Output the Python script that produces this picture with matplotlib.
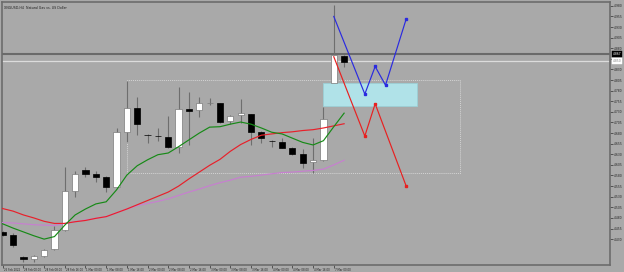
import matplotlib
matplotlib.use("Agg")
import matplotlib.pyplot as plt
import matplotlib.transforms as mtransforms
from matplotlib.patches import Rectangle

# Dados (velas H4)
titulo = "XNGUSD,H4  Natural Gas vs. US Dollar"

abertura = [4.446, 4.440, 4.389, 4.383, 4.390, 4.407, 4.452, 4.544, 4.593, 4.584,
            4.577, 4.553, 4.683, 4.739, 4.676, 4.674, 4.671, 4.647, 4.737, 4.735,
            4.751, 4.751, 4.709, 4.723, 4.725, 4.683, 4.662, 4.659, 4.645, 4.631,
            4.612, 4.617, 4.798, 4.862]
maxima = [4.448, 4.444, 4.391, 4.392, 4.407, 4.461, 4.600, 4.591, 4.600, 4.591,
          4.579, 4.692, 4.803, 4.765, 4.677, 4.692, 4.721, 4.789, 4.777, 4.765,
          4.763, 4.752, 4.722, 4.761, 4.726, 4.685, 4.664, 4.669, 4.647, 4.643,
          4.669, 4.742, 4.982, 4.863]
minima = [4.438, 4.412, 4.376, 4.376, 4.388, 4.405, 4.448, 4.530, 4.577, 4.565,
          4.541, 4.551, 4.659, 4.676, 4.657, 4.662, 4.645, 4.633, 4.652, 4.718,
          4.747, 4.704, 4.702, 4.704, 4.652, 4.657, 4.647, 4.644, 4.629, 4.598,
          4.586, 4.614, 4.796, 4.836]
fechamento = [4.440, 4.416, 4.383, 4.391, 4.405, 4.452, 4.544, 4.584, 4.584, 4.577,
              4.553, 4.683, 4.739, 4.702, 4.675, 4.672, 4.647, 4.737, 4.732, 4.751,
              4.752, 4.706, 4.721, 4.728, 4.683, 4.669, 4.661, 4.645, 4.631, 4.610,
              4.617, 4.713, 4.864, 4.848]

# Medias moveis (comecam uma vela antes da tela)
media_verde = [4.475, 4.466, 4.456, 4.447, 4.438, 4.430, 4.436, 4.463, 4.487, 4.501,
               4.513, 4.518, 4.546, 4.581, 4.603, 4.617, 4.629, 4.633, 4.648, 4.664,
               4.680, 4.694, 4.695, 4.701, 4.706, 4.701, 4.692, 4.682, 4.678, 4.668,
               4.658, 4.652, 4.662, 4.695, 4.727]
media_vermelha = [4.508, 4.502, 4.496, 4.487, 4.480, 4.472, 4.467, 4.467, 4.471, 4.474,
                  4.479, 4.483, 4.492, 4.501, 4.511, 4.521, 4.531, 4.541, 4.555, 4.572,
                  4.588, 4.604, 4.618, 4.637, 4.653, 4.665, 4.675, 4.678, 4.681, 4.683,
                  4.686, 4.688, 4.692, 4.697, 4.702]
media_roxa = [4.471, 4.469, 4.468, 4.466, 4.464, 4.463, 4.462, 4.467, 4.471, 4.475,
              4.479, 4.483, 4.492, 4.501, 4.509, 4.514, 4.519, 4.525, 4.533, 4.541,
              4.548, 4.556, 4.563, 4.569, 4.576, 4.578, 4.581, 4.584, 4.587, 4.588,
              4.590, 4.592, 4.595, 4.605, 4.616]

# Projecoes desenhadas
proj_azul_x = [32, 35, 36, 37, 39]
proj_azul_y = [4.955, 4.772, 4.837, 4.793, 4.949]
proj_verm_x = [32, 35, 36, 39]
proj_verm_y = [4.860, 4.673, 4.749, 4.555]

# Zonas (retangulos)
caixa_pontilhada = (12, 44.2, 4.586, 4.805)
zona_azul = (30.95, 40.0, 4.744, 4.798)

# Linhas de preco
preco_bid = 4.867
preco_ask = 4.850

# Eixos
rotulos_x = ["25 Feb 2022", "28 Feb 00:00", "28 Feb 08:00", "28 Feb 16:00",
             "1 Mar 00:00", "1 Mar 08:00", "1 Mar 16:00", "2 Mar 00:00",
             "2 Mar 08:00", "2 Mar 16:00", "3 Mar 00:00", "3 Mar 08:00",
             "3 Mar 16:00", "4 Mar 00:00", "4 Mar 08:00", "4 Mar 16:00",
             "7 Mar 00:00"]
ticks_y = [4.980 - 0.025 * k for k in range(23)]

fundo = "#a9a9a9"
borda = "#6c6c6c"

fig = plt.figure(figsize=(6.24, 2.72), dpi=100, facecolor=fundo)
ax = fig.add_axes([2 / 624, 7 / 272, 608 / 624, 263 / 272])
ax.set_facecolor(fundo)

n = len(abertura)
xs = list(range(n))

# Velas
for i in xs:
    o, h, l, c = abertura[i], maxima[i], minima[i], fechamento[i]
    ax.vlines(i, l, h, color="#6e6e6e", lw=0.8, zorder=2)
    if c >= o:
        ax.bar(i, c - o, bottom=o, width=0.6, color="white",
               edgecolor="#7a7a7a", lw=0.5, zorder=3)
    else:
        ax.bar(i, o - c, bottom=c, width=0.6, color="black",
               edgecolor="black", lw=0.5, zorder=3)

# Medias moveis
xm = list(range(-1, n))
ax.plot(xm, media_roxa, color="#c77fd0", lw=0.85, zorder=4)
ax.plot(xm, media_vermelha, color="#e8202a", lw=0.85, zorder=4)
ax.plot(xm, media_verde, color="#178a17", lw=0.85, zorder=4)

# Caixas
x0, x1, y0, y1 = caixa_pontilhada
ax.add_patch(Rectangle((x0, y0), x1 - x0, y1 - y0, fill=False,
                       edgecolor="#d4d4d4", lw=0.7, ls=(0, (1, 1)), zorder=1))
x0, x1, y0, y1 = zona_azul
ax.add_patch(Rectangle((x0, y0), x1 - x0, y1 - y0, facecolor="#b0e2e8",
                       edgecolor="#9ccfd6", lw=0.6, zorder=2))

# Linhas bid / ask
ax.axhline(preco_bid, color="#6a6a6a", lw=1.5, zorder=1)
ax.axhline(preco_ask, color="#dcdcdc", lw=0.9, zorder=1)

# Projecoes
ax.plot(proj_azul_x, proj_azul_y, color="#2a2ae0", lw=0.85, zorder=5)
ax.plot(proj_azul_x[1:], proj_azul_y[1:], ls="none", marker="s", ms=2,
        color="#2a2ae0", zorder=5)
ax.plot(proj_verm_x, proj_verm_y, color="#e82020", lw=0.85, zorder=5)
ax.plot(proj_verm_x[1:], proj_verm_y[1:], ls="none", marker="s", ms=2,
        color="#e82020", zorder=5)

ax.set_xlim(-0.07, 58.7)
ax.set_ylim(4.369, 4.989)

# Eixo x
ax.set_xticks(range(0, 33, 2))
ax.set_xticklabels(rotulos_x, fontsize=1.9, color="#202020", ha="left")
ax.tick_params(axis="x", length=2, width=0.5, color="#303030", pad=0.5)
for lab in ax.get_xticklabels():
    lab.set_transform(lab.get_transform() + mtransforms.ScaledTranslation(1 / 100, 0, fig.dpi_scale_trans))

# Eixo y a direita
ax.yaxis.tick_right()
ax.set_yticks(ticks_y)
ax.set_yticklabels(["" if abs(v - 4.855) < 0.001 else f"{v:.3f}" for v in ticks_y],
                   fontsize=2.2, color="#202020")
ax.tick_params(axis="y", length=2, width=0.5, color="#303030", pad=1)

for lado in ax.spines.values():
    lado.set_color(borda)
    lado.set_linewidth(1.2)

# Rotulos de preco
trans = mtransforms.blended_transform_factory(ax.transAxes, ax.transData)
ax.text(1.004, preco_bid, f"{preco_bid:.3f}", transform=trans, fontsize=2.2,
        color="white", va="center", ha="left",
        bbox=dict(boxstyle="square,pad=0.3", fc="black", ec="black", lw=0.3))
ax.text(1.004, preco_ask, f"{preco_ask:.3f}", transform=trans, fontsize=2.2,
        color="#808080", va="center", ha="left",
        bbox=dict(boxstyle="square,pad=0.3", fc="white", ec="white", lw=0.3))

# Titulo
ax.text(0.003, 0.985, titulo, transform=ax.transAxes, fontsize=2.3,
        color="#202020", va="top", ha="left")

plt.savefig("out.png", dpi=100, facecolor=fundo)
plt.close()
